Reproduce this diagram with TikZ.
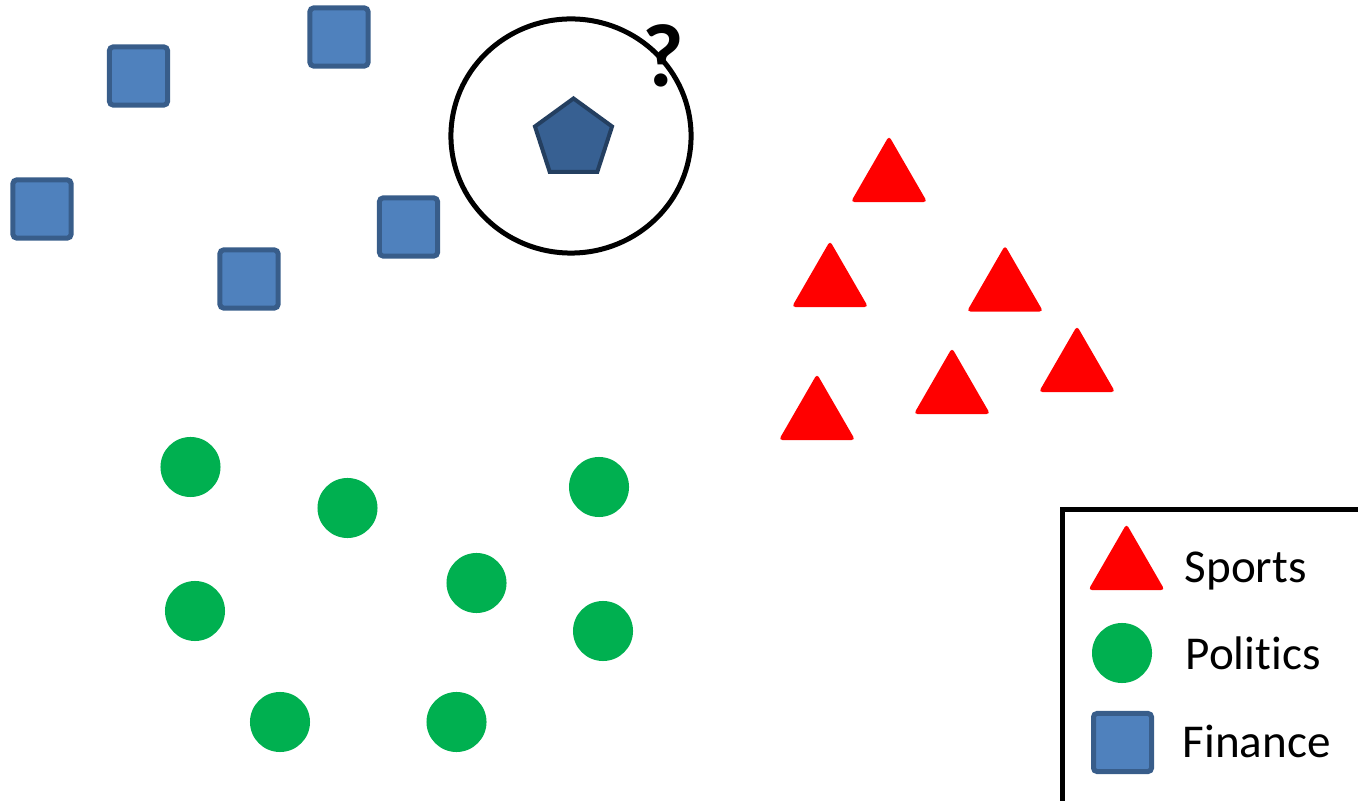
\documentclass[tikz,border=0pt]{standalone}
\usepackage{fontspec}
\setmainfont[Ligatures=NoCommon]{Carlito}
\usepackage{xcolor}
\usetikzlibrary{positioning, shapes.geometric}
\definecolor{finfill}{HTML}{4F81BD}
\definecolor{finline}{HTML}{385D8A}
\definecolor{qfill}{HTML}{376092}
\definecolor{qline}{HTML}{243F60}
\definecolor{polgreen}{HTML}{00B050}
\definecolor{sportred}{HTML}{FF0000}

\begin{document}
\begin{tikzpicture}[
    x=0.01cm, y=-0.01cm,
    finbox/.style={rectangle, fill=finfill, draw=finline, line width=0.05cm,
        minimum size=0.58cm, inner sep=0pt, rounded corners=1pt},
    poldot/.style={circle, fill=polgreen, minimum size=0.60cm, inner sep=0pt},
    sporttri/.style={regular polygon, regular polygon sides=3, fill=sportred,
        minimum size=0.88cm, inner sep=0pt, rounded corners=1pt},
    query/.style={regular polygon, regular polygon sides=5, fill=qfill, draw=qline,
        line width=0.04cm, minimum size=0.81cm, inner sep=0pt},
    lbl/.style={anchor=base west, inner sep=0pt, font=\fontsize{13.4}{16}\selectfont},
]
\useasboundingbox (0,0) rectangle (1358,801);

% Finance squares
\foreach \x/\y [count=\i] in {138.5/76, 339/37, 42/209, 249/279, 408.5/227}
    \node[finbox] (fin\i) at (\x,\y) {};

% Sports triangles
\foreach \x/\y [count=\i] in {889/180, 830/285, 1005/289.5, 1077/370, 952/392, 817/418}
    \node[sporttri] (spo\i) at (\x,\y) {};

% Politics dots
\foreach \x/\y [count=\i] in {190.5/467, 347.5/508, 599/487, 476.5/583, 195/611, 603/631, 280/722, 456.5/722}
    \node[poldot] (pol\i) at (\x,\y) {};

% Unknown document and its neighbourhood
\node[query] (doc) at (573.5,139) {};
\node[ellipse, draw, line width=0.05cm, minimum width=2.40cm, minimum height=2.34cm,
    inner sep=0pt] (nbhd) at (571,136) {};
\node[anchor=base west, inner sep=0pt, font=\bfseries\fontsize{25.5}{30}\selectfont]
    (qmark) at (642,87) {?};

% Legend
\draw[line width=0.05cm] (1062.5,804) -- (1062.5,509.5) -- (1362,509.5);
\node[sporttri] (legspo) at (1126.5,568) {};
\node[poldot] (legpol) at (1122,653) {};
\node[finbox] (legfin) at (1122.5,742.5) {};
\node[lbl] (txtspo) at (1184,583) {Sports};
\node[lbl] (txtpol) at (1185,670) {Poli\kern0pt tics};
\node[lbl] (txtfin) at (1182,758) {Finance};

\end{tikzpicture}
\end{document}
